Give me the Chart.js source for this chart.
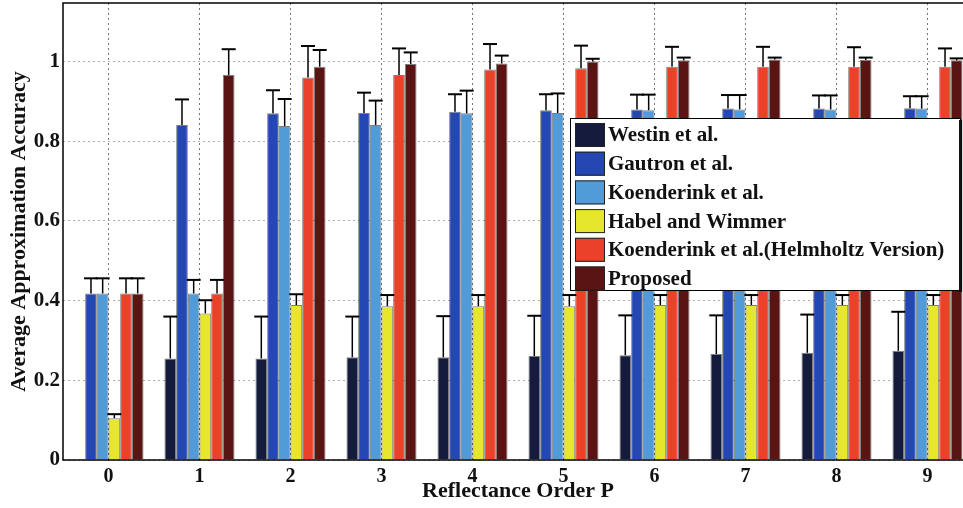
<!DOCTYPE html>
<html>
<head>
<meta charset="utf-8">
<script src="https://cdn.jsdelivr.net/npm/chart.js@4/dist/chart.umd.min.js"></script>
<style>
  html, body { margin: 0; padding: 0; background: #fff; overflow: hidden; }
  #wrap { width: 977px; height: 508px; position: relative; }
</style>
</head>
<body>
<div id="wrap"><canvas id="chart"></canvas></div>
<script>
// Reflectance order (x categories)
const categories = ['0', '1', '2', '3', '4', '5', '6', '7', '8', '9'];
const yTicks = [0, 0.2, 0.4, 0.6, 0.8, 1];

// Mean accuracy per method
const westin    = [null, 0.255, 0.255, 0.258, 0.258, 0.261, 0.263, 0.266, 0.269, 0.274];
const gautron   = [0.418, 0.841, 0.870, 0.871, 0.874, 0.878, 0.880, 0.882, 0.882, 0.883];
const koend     = [0.418, 0.418, 0.838, 0.841, 0.870, 0.871, 0.878, 0.880, 0.880, 0.882];
const habel     = [0.105, 0.368, 0.389, 0.386, 0.386, 0.386, 0.389, 0.389, 0.389, 0.389];
const helmholtz = [0.418, 0.418, 0.960, 0.966, 0.980, 0.983, 0.987, 0.987, 0.987, 0.987];
const proposed  = [0.418, 0.966, 0.987, 0.994, 0.995, 1.000, 1.003, 1.005, 1.004, 1.003];

// Upper end of the error bars
const westinErr    = [null, 0.360, 0.360, 0.360, 0.361, 0.362, 0.363, 0.363, 0.365, 0.372];
const gautronErr   = [0.456, 0.905, 0.928, 0.922, 0.918, 0.918, 0.917, 0.916, 0.915, 0.913];
const koendErr     = [0.456, 0.452, 0.906, 0.902, 0.927, 0.920, 0.917, 0.916, 0.915, 0.913];
const habelErr     = [0.115, 0.401, 0.416, 0.414, 0.414, 0.414, 0.414, 0.414, 0.414, 0.414];
const helmholtzErr = [0.456, 0.452, 1.039, 1.033, 1.044, 1.040, 1.037, 1.037, 1.036, 1.033];
const proposedErr  = [0.456, 1.031, 1.029, 1.023, 1.015, 1.007, 1.010, 1.010, 1.010, 1.008];

const seriesNames = ['Westin et al.', 'Gautron et al.', 'Koenderink et al.', 'Habel and Wimmer',
  'Koenderink et al.(Helmholtz Version)', 'Proposed'];
const seriesValues = [westin, gautron, koend, habel, helmholtz, proposed];
const seriesErr = [westinErr, gautronErr, koendErr, habelErr, helmholtzErr, proposedErr];
const colors = ['#151b3c', '#2447b4', '#519cd8', '#e6e62c', '#ea4128', '#5b1414'];

const serif = '"Liberation Serif", "DejaVu Serif", serif';

// error bars: whisker + cap above each bar
const errorBars = {
  id: 'errorBars',
  afterDatasetsDraw(chart) {
    const ctx = chart.ctx;
    const y = chart.scales.y;
    ctx.save();
    ctx.strokeStyle = '#000';
    chart.data.datasets.forEach((ds, i) => {
      const meta = chart.getDatasetMeta(i);
      meta.data.forEach((bar, j) => {
        const hi = seriesErr[i][j];
        if (hi == null || ds.data[j] == null) return;
        const yHi = y.getPixelForValue(hi);
        const half = bar.width * 0.6;
        ctx.lineWidth = 1.5;
        ctx.beginPath();
        ctx.moveTo(bar.x, bar.y);
        ctx.lineTo(bar.x, yHi);
        ctx.stroke();
        ctx.lineWidth = 2;
        ctx.beginPath();
        ctx.moveTo(bar.x - half, yHi);
        ctx.lineTo(bar.x + half, yHi);
        ctx.stroke();
      });
    });
    ctx.restore();
  }
};

// solid axes box + legend box drawn over the bars
const boxAndLegend = {
  id: 'boxAndLegend',
  afterDraw(chart) {
    const ctx = chart.ctx;
    const a = chart.chartArea;
    ctx.save();
    ctx.strokeStyle = '#000';
    ctx.lineWidth = 1.5;
    ctx.beginPath();
    ctx.moveTo(a.right, a.top);
    ctx.lineTo(a.left, a.top);
    ctx.lineTo(a.left, a.bottom);
    ctx.lineTo(a.right, a.bottom);
    ctx.stroke();

    // legend
    const lx = 570, ly = 118, lw = 390, lh = 172;
    ctx.fillStyle = '#fff';
    ctx.fillRect(lx, ly, lw, lh);
    ctx.lineWidth = 1;
    ctx.strokeRect(lx + 0.5, ly + 0.5, lw, lh);
    ctx.fillStyle = '#111';
    ctx.fillRect(lx + lw - 1, ly + 2, 3, lh);
    const rowH = 28.7;
    ctx.font = 'bold 21px ' + serif;
    ctx.textBaseline = 'middle';
    seriesNames.forEach((name, i) => {
      const cy = ly + 17 + i * rowH;
      ctx.fillStyle = colors[i];
      ctx.fillRect(lx + 5, cy - 12, 30, 24);
      ctx.strokeStyle = '#222';
      ctx.lineWidth = 1;
      ctx.strokeRect(lx + 5.5, cy - 11.5, 29, 23);
      ctx.fillStyle = '#111';
      ctx.fillText(name, lx + 38, cy + 1);
    });
    ctx.restore();
  }
};

new Chart(document.getElementById('chart'), {
  type: 'bar',
  data: {
    labels: categories,
    datasets: seriesNames.map((name, i) => ({
      label: name,
      data: seriesValues[i],
      backgroundColor: colors[i],
      borderColor: 'rgba(20,20,20,0.55)',
      borderWidth: 1,
      barPercentage: 1.0,
      categoryPercentage: 0.77
    }))
  },
  options: {
    responsive: true,
    maintainAspectRatio: false,
    animation: false,
    layout: { padding: { left: 0, right: 4, top: 3, bottom: 0 } },
    plugins: {
      legend: { display: false },
      tooltip: { enabled: false }
    },
    scales: {
      x: {
        grid: { offset: false, color: '#777', lineWidth: 1, drawTicks: false },
        border: { display: false, dash: [2, 3] },
        ticks: { color: '#111', font: { family: serif, size: 20, weight: 'bold' }, padding: 5 },
        title: {
          display: true, text: 'Reflectance Order P', color: '#111',
          font: { family: serif, size: 22, weight: 'bold' }, padding: { top: 0, bottom: 3 }
        },
        afterFit(scale) {
          scale.height = 48;
          scale.paddingLeft = 0;
          scale.paddingRight = 0;
        }
      },
      y: {
        min: 0,
        max: 1.147,
        afterBuildTicks(scale) { scale.ticks = yTicks.map(v => ({ value: v })); },
        grid: { color: '#b0b0b0', lineWidth: 1, drawTicks: false },
        border: { display: false, dash: [2, 3] },
        ticks: {
          color: '#111', font: { family: serif, size: 21, weight: 'bold' }, padding: 3,
          callback: v => String(Math.round(v * 10) / 10)
        },
        title: {
          display: true, text: 'Average Approximation Accuracy', color: '#111',
          font: { family: serif, size: 22, weight: 'bold' }, padding: { top: 6, bottom: 0 }
        },
        afterFit(scale) {
          scale.width = 63;
          scale.paddingTop = 0;
          scale.paddingBottom = 0;
        }
      }
    }
  },
  plugins: [errorBars, boxAndLegend]
});
</script>
</body>
</html>
